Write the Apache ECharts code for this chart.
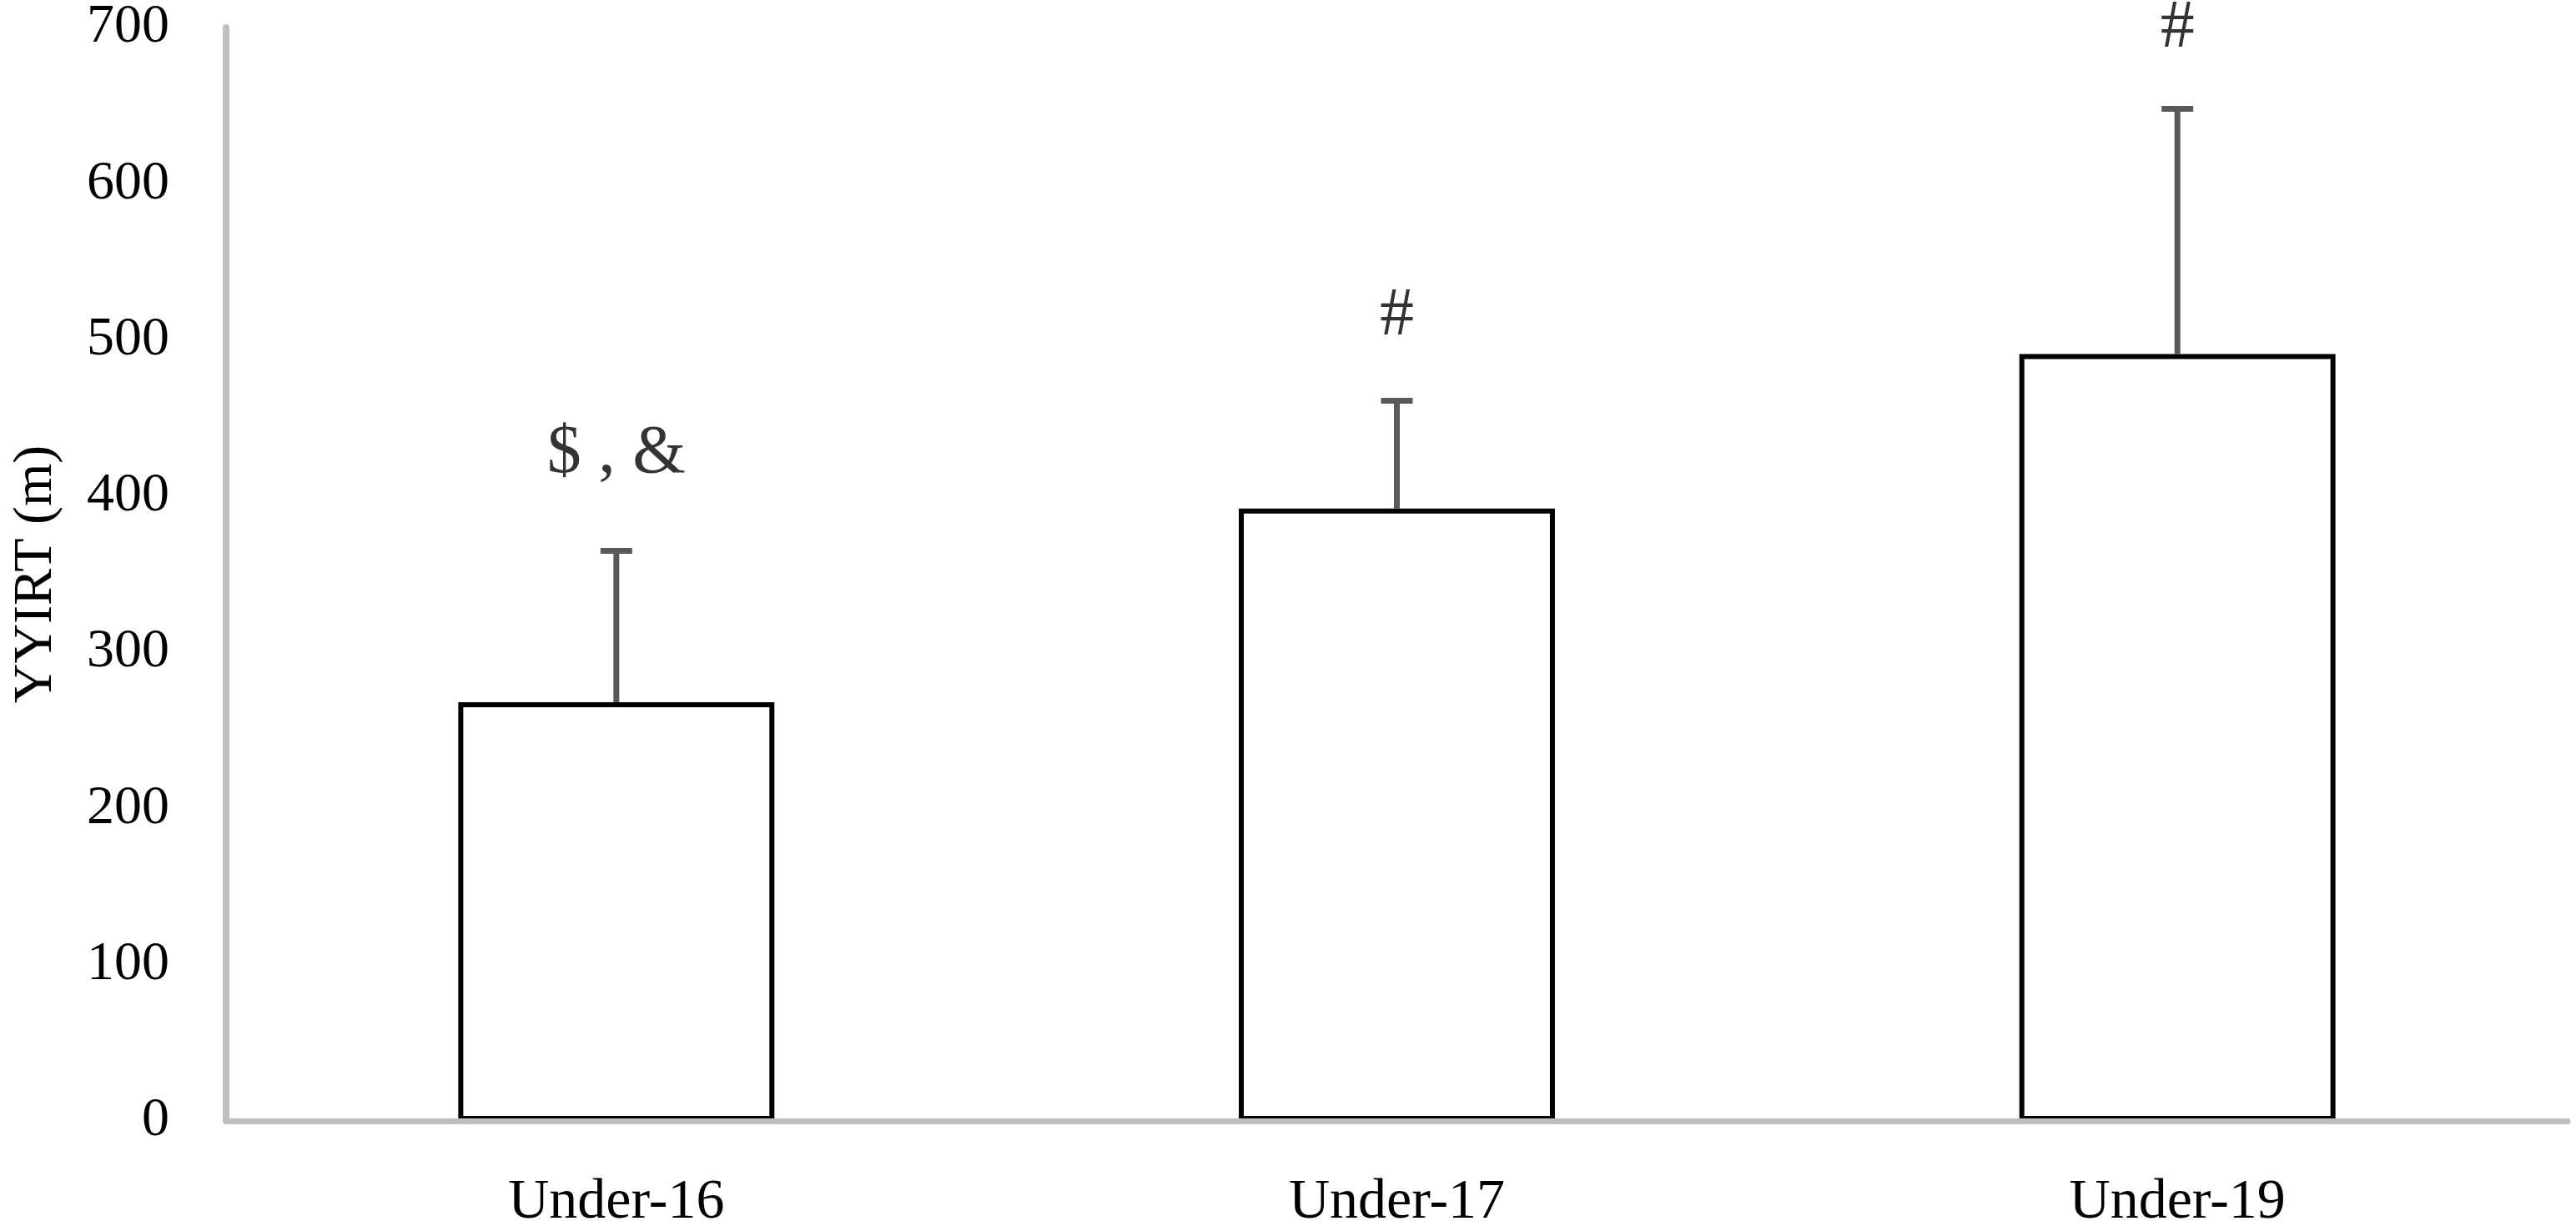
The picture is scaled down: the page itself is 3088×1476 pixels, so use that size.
<!DOCTYPE html>
<html>
<head>
<meta charset="utf-8">
<script src="https://cdn.jsdelivr.net/npm/echarts@6/dist/echarts.min.js"></script>
<style>
html,body{margin:0;padding:0;background:#fff;}
#chart{width:3088px;height:1476px;}
</style>
</head>
<body>
<div id="chart"></div>
<script>
var categories = ['Under-16', 'Under-17', 'Under-19'];
var means = [268, 392, 491];
var sds = [97, 69, 157];
var annotations = ['$ , &', '#', '#'];
var annotationY = [427, 515, 699];
var yTicks = { min: 0, max: 700, interval: 100 };
var yTitle = 'YYIRT (m)';

var FONT = "'Liberation Serif', 'Times New Roman', serif";

var chart = echarts.init(document.getElementById('chart'), null, { renderer: 'canvas' });

var errData = categories.map(function (c, i) { return [i, means[i], sds[i]]; });
var annData = categories.map(function (c, i) { return [i, annotationY[i], annotations[i]]; });

chart.setOption({
  backgroundColor: '#ffffff',
  animation: false,
  grid: { left: 271, right: 10, top: 33, bottom: 128, containLabel: false },
  xAxis: {
    type: 'category',
    data: categories,
    z: 10,
    axisLine: { show: true, lineStyle: { color: '#bfbfbf', width: 7 } },
    axisTick: { show: false },
    axisLabel: { color: '#000', fontFamily: FONT, fontSize: 68, margin: 64 },
    splitLine: { show: false }
  },
  yAxis: {
    type: 'value',
    min: yTicks.min, max: yTicks.max, interval: yTicks.interval,
    name: yTitle,
    nameLocation: 'middle',
    nameGap: 194,
    nameRotate: 90,
    nameTextStyle: { color: '#000', fontFamily: FONT, fontSize: 66 },
    axisLine: { show: true, lineStyle: { color: '#bfbfbf', width: 8 } },
    axisTick: { show: false },
    axisLabel: { color: '#000', fontFamily: FONT, fontSize: 66, margin: 68 },
    splitLine: { show: false }
  },
  series: [
    {
      type: 'bar',
      data: means,
      barWidth: '40.5%',
      itemStyle: { color: '#ffffff', borderColor: '#000000', borderWidth: 6 },
      z: 2
    },
    {
      type: 'custom',
      data: errData,
      z: 3,
      renderItem: function (params, api) {
        var x = api.value(0), m = api.value(1), s = api.value(2);
        var base = api.coord([x, m]);
        var top = api.coord([x, m + s]);
        var hw = 19;
        var st = { stroke: '#595959', lineWidth: 7 };
        return {
          type: 'group',
          children: [
            { type: 'line', shape: { x1: base[0], y1: base[1], x2: top[0], y2: top[1] }, style: st },
            { type: 'line', shape: { x1: top[0] - hw, y1: top[1], x2: top[0] + hw, y2: top[1] }, style: st }
          ]
        };
      }
    },
    {
      type: 'scatter',
      data: annData,
      symbolSize: 0,
      z: 4,
      label: {
        show: true,
        position: 'inside',
        formatter: function (p) { return p.data[2]; },
        color: '#000',
        fontFamily: FONT,
        fontSize: 82
      }
    }
  ]
});
</script>
</body>
</html>
